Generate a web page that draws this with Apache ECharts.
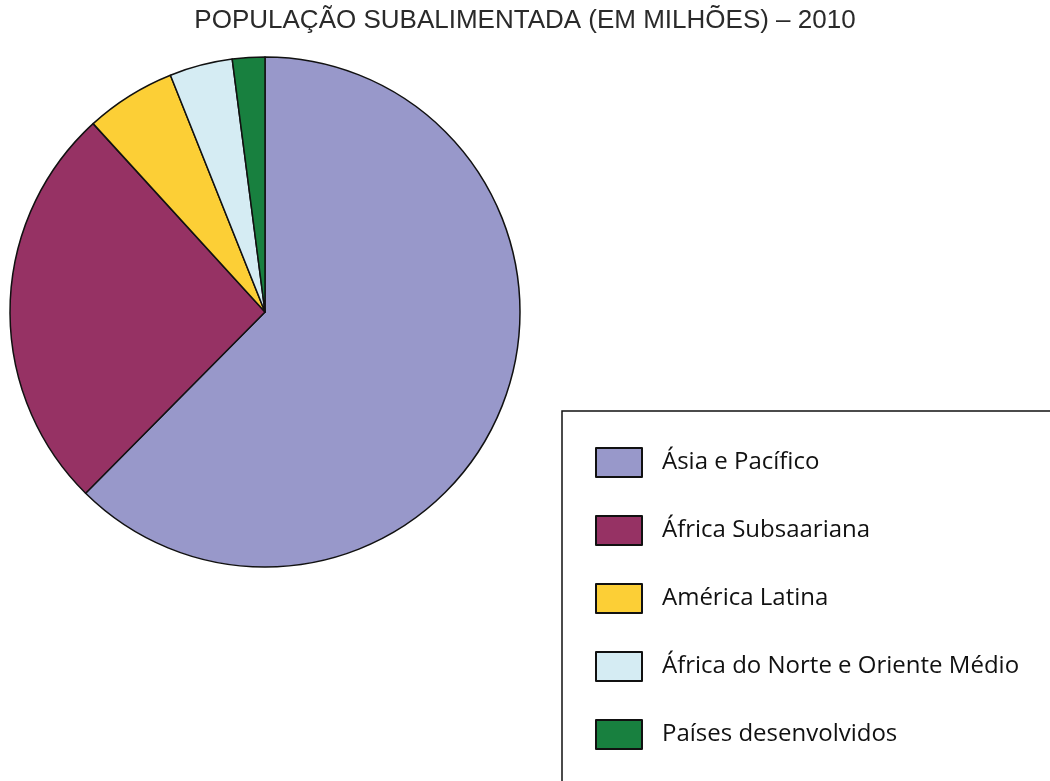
<!DOCTYPE html>
<html>
<head>
  <meta http-equiv="Content-Type" content="text/html; charset=utf-8"/>
  <title>População subalimentada 2010</title>
  <script src="https://cdn.jsdelivr.net/npm/echarts@6.0.0/dist/echarts.min.js"></script>
  <style>
    html, body { margin:0; padding:0; background:#fff; }
    #chart { width:1050px; height:781px; }
  </style>
</head>
<body>
<div id="chart"></div>
<script type="text/javascript">
// regiões e valores (milhões de pessoas, 2010)
var regioes = ['Ásia e Pacífico', 'África Subsaariana', 'América Latina', 'África do Norte e Oriente Médio', 'Países desenvolvidos'];
var valores = [578, 239, 53, 37, 19];
var cores = ['#9898ca', '#963264', '#fccf36', '#d5ecf3', '#18803f'];

var dados = [];
for (var i = 0; i < regioes.length; i++) {
  dados.push({ name: regioes[i], value: valores[i], itemStyle: { color: cores[i] } });
}

var chart = echarts.init(document.getElementById('chart'));
var option = {
  animation: false,
  title: {
    text: 'POPULAÇÃO SUBALIMENTADA (EM MILHÕES) – 2010',
    left: 'center',
    top: 3,
    textStyle: {
      fontFamily: 'Liberation Sans',
      fontWeight: 'normal',
      fontSize: 26,
      color: '#2a2a2a'
    }
  },
  // moldura da legenda (sai pela direita e por baixo)
  graphic: [
    {
      type: 'rect',
      shape: { x: 562, y: 411, width: 600, height: 500 },
      style: { fill: 'none', stroke: '#111', lineWidth: 1.5 },
      silent: true
    }
  ],
  legend: {
    orient: 'vertical',
    left: 595,
    top: 447,
    padding: 0,
    itemWidth: 46,
    itemHeight: 29,
    itemGap: 37,
    icon: 'rect',
    selectedMode: false,
    itemStyle: { borderColor: '#111', borderWidth: 2 },
    textStyle: {
      fontFamily: 'Open Sans',
      fontSize: 24,
      lineHeight: 29,
      color: '#111',
      padding: [0, 0, 0, 15]
    },
    data: regioes
  },
  series: [
    {
      type: 'pie',
      center: [265, 312],
      radius: 255,
      startAngle: 90,
      clockwise: true,
      label: { show: false },
      labelLine: { show: false },
      itemStyle: { borderColor: '#111', borderWidth: 1.5 },
      emphasis: { disabled: true },
      data: dados
    }
  ]
};
chart.setOption(option);
</script>
</body>
</html>
